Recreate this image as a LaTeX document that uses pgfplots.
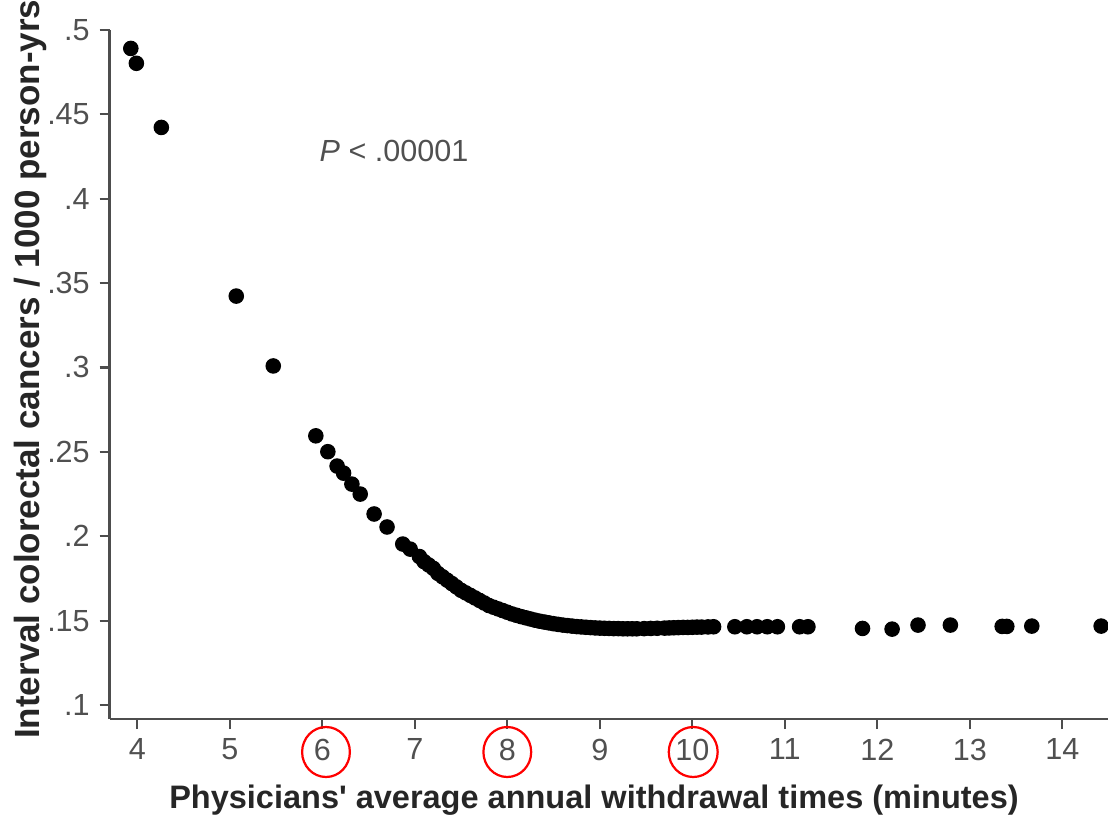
\documentclass[border=0pt]{standalone}
\usepackage{fontspec}
\setmainfont{Liberation Sans}
\usepackage{pgfplots}
\pgfplotsset{compat=1.18}
\definecolor{axgray}{HTML}{4D4D4D}
\definecolor{txtgray}{HTML}{505050}
\begin{document}
\begin{tikzpicture}
\begin{axis}[
  x=33.3pt, y=607.68pt,
  xmin=3.70, xmax=14.6, ymin=0.0917, ymax=0.5,
  axis x line*=bottom, axis y line*=left,
  axis line style={axgray, line width=1pt, -},
  xtick={4,5,6,7,8,9,10,11,12,13,14},
  xticklabels={4,5,6,7,8,9,10,11,12,13,14},
  ytick={0.1,0.15,0.2,0.25,0.3,0.35,0.4,0.45,0.5},
  yticklabels={.1,.15,.2,.25,.3,.35,.4,.45,.5},
  tick align=outside, major tick length=3.6pt,
  tick style={axgray, line width=0.8pt},
  ticklabel style={font=\fontsize{11}{13}\selectfont, text=txtgray},
  clip=false,
]
\addplot[only marks, mark=*, mark size=2.6pt, black] coordinates {
(3.93,0.4890) (3.99,0.4802) (4.26,0.4422) (5.07,0.3423) (5.47,0.3009)
(5.93,0.2595) (6.06,0.2501) (6.16,0.2416) (6.23,0.2374) (6.32,0.2309)
(6.41,0.2250) (6.56,0.2132) (6.70,0.2055) (6.87,0.1954) (6.95,0.1924)
(7.05,0.188) (7.10,0.185) (7.15,0.183) (7.20,0.181) (7.25,0.178)
(7.30,0.176) (7.35,0.174) (7.40,0.172) (7.45,0.170) (7.50,0.168)
(7.55,0.1665) (7.60,0.165) (7.65,0.1635) (7.70,0.162) (7.75,0.1605)
(7.80,0.159) (7.85,0.158) (7.90,0.157) (7.95,0.156) (8.00,0.155)
(8.05,0.154) (8.10,0.1532) (8.15,0.1524) (8.20,0.1517) (8.25,0.151)
(8.30,0.1503) (8.35,0.1497) (8.40,0.1492) (8.45,0.1487) (8.50,0.1482)
(8.55,0.1478) (8.60,0.1474) (8.65,0.1471) (8.70,0.1468) (8.75,0.1465)
(8.80,0.1463) (8.85,0.1461) (8.90,0.1459) (8.95,0.1457) (9.00,0.1456)
(9.05,0.1455) (9.10,0.1454) (9.15,0.1453) (9.20,0.1453) (9.25,0.1452)
(9.30,0.1452) (9.35,0.1452) (9.40,0.1452) (9.48,0.1453) (9.55,0.1454)
(9.62,0.1455) (9.70,0.1456) (9.75,0.1457) (9.80,0.1458) (9.85,0.1459)
(9.90,0.1460) (9.95,0.1460) (10.00,0.1461) (10.05,0.1462) (10.10,0.1462)
(10.17,0.1463) (10.23,0.1464)
(10.46,0.1464) (10.59,0.1464) (10.70,0.1464) (10.81,0.1464) (10.92,0.1464)
(11.16,0.1464) (11.25,0.1464)
(11.84,0.1454) (12.16,0.1450) (12.44,0.1474) (12.79,0.1474)
(13.35,0.1466) (13.40,0.1466) (13.67,0.1468) (14.42,0.1468)
};
\node[text=txtgray, font=\fontsize{11}{13}\selectfont] at (axis cs:6.775,0.4282) {\textit{P} < .00001};
\node[rotate=90, font=\fontsize{12.6}{14}\selectfont\bfseries, text=black!85] at (axis cs:2.845,0.2990) {Interval colorectal cancers / 1000 person-yrs};
\node[font=\fontsize{11.7}{13}\selectfont\bfseries, text=black!85] at (axis cs:8.937,0.0437) {Physicians\textquotesingle\ average annual withdrawal times (minutes)};
\draw[red, line width=0.8pt] (axis cs:6.04,0.0722) ellipse [x radius=8.6pt, y radius=9pt];
\draw[red, line width=0.8pt] (axis cs:8.00,0.0722) ellipse [x radius=8.6pt, y radius=9pt];
\draw[red, line width=0.8pt] (axis cs:10.01,0.0722) ellipse [x radius=8.8pt, y radius=9pt];
\coordinate (bl) at (axis cs:2.5157,0.03246);
\coordinate (tr) at (axis cs:14.494,0.5177);
\end{axis}
\pgfresetboundingbox
\useasboundingbox (bl) rectangle (tr);
\end{tikzpicture}
\end{document}
